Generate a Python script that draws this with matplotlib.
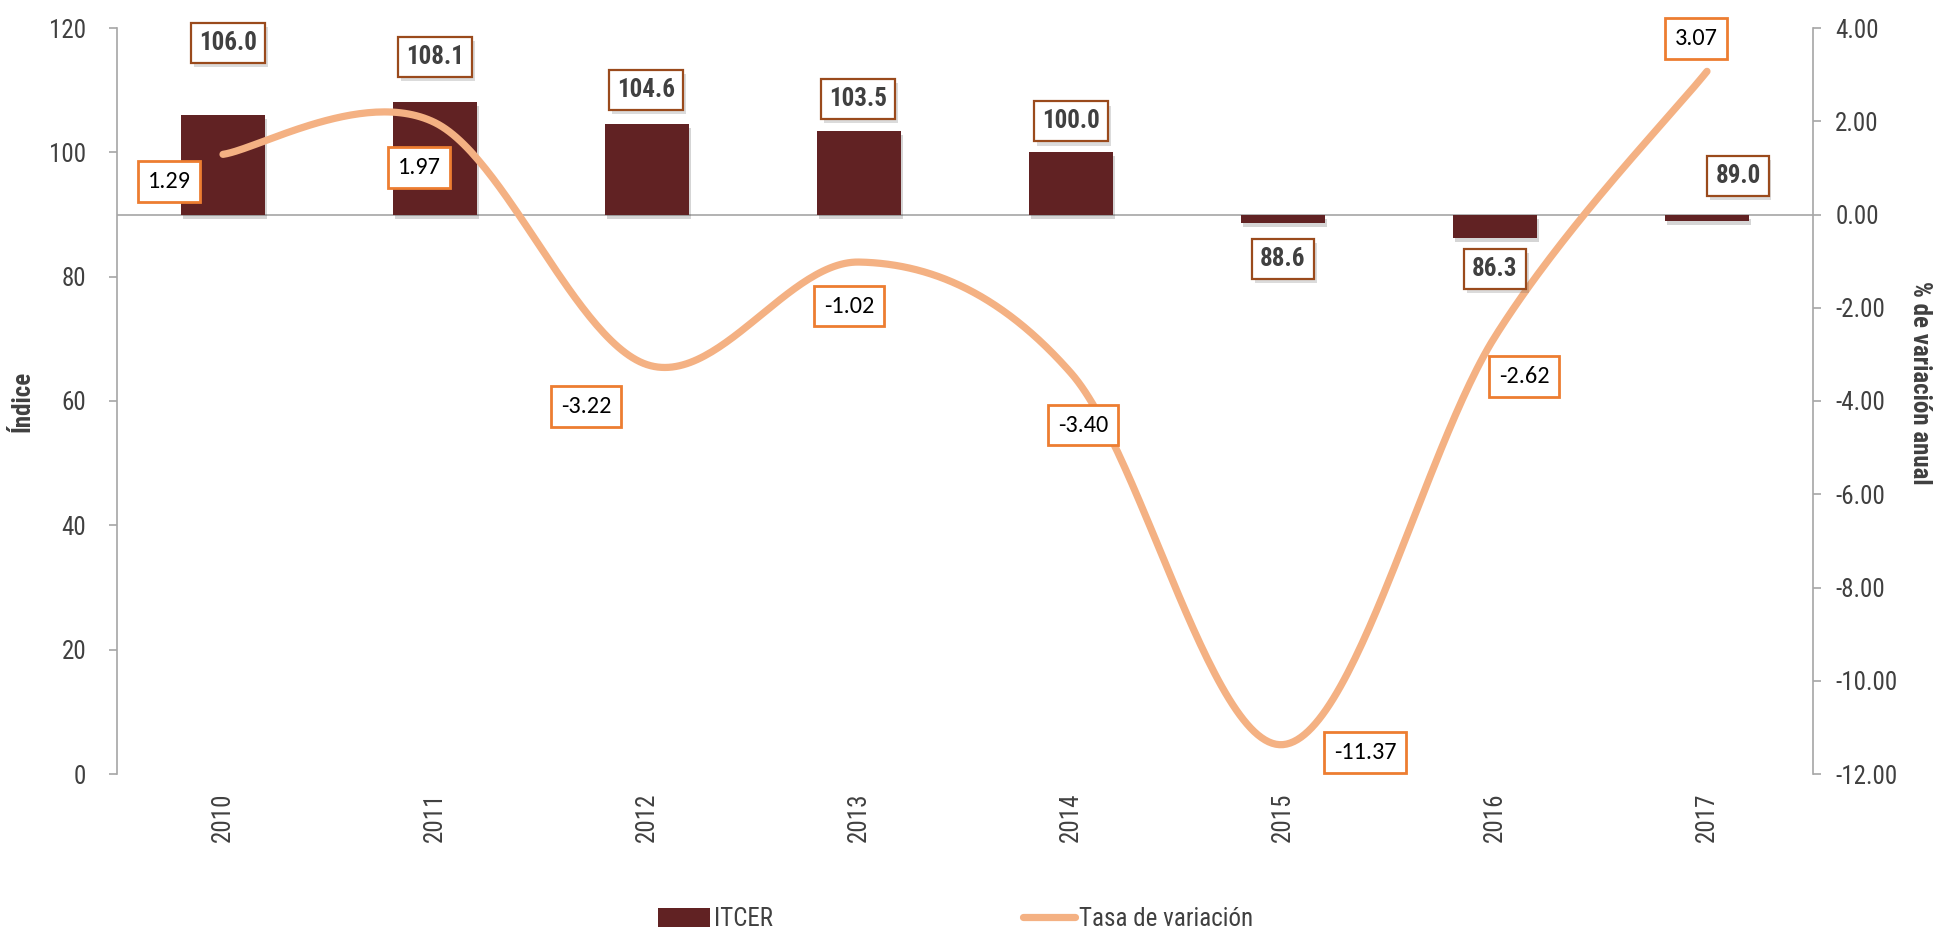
import numpy as np
import matplotlib
matplotlib.use("Agg")
import matplotlib.pyplot as plt
import matplotlib.patheffects as pe
from matplotlib import font_manager as fm
from matplotlib.patches import Patch
from matplotlib.lines import Line2D

# ---- data ----
years = ["2010", "2011", "2012", "2013", "2014", "2015", "2016", "2017"]
itcer = [106.0, 108.1, 104.6, 103.5, 100.0, 88.6, 86.3, 89.0]
tasa = [1.29, 1.97, -3.22, -1.02, -3.40, -11.37, -2.62, 3.07]
base_index = 90.0

# label offsets in pixels (dx, dy) from the bar end / line point
bar_label_offsets = [(5, 72), (0, 45), (-1, 34), (-1, 32), (0, 31), (0, -36), (0, -31), (31, 45)]
line_label_offsets = [(-54, -27), (-16, -45), (-61, -42), (-10, -44), (12, -52), (82, -8), (29, -40), (-11, 33)]


def pick_family(candidates, need_bold=False, default="DejaVu Sans"):
    """First installed family from candidates (optionally one that has a bold face)."""
    weights = {}
    for f in fm.fontManager.ttflist:
        w = f.weight
        if isinstance(w, str):
            w = fm.weight_dict.get(w, 400)
        weights.setdefault(f.name, set()).add(int(w))
    for c in candidates:
        if c in weights and (not need_bold or max(weights[c]) >= 600):
            return c
    return default


narrow_candidates = ["Liberation Sans Narrow", "Arial Narrow", "Roboto Condensed", "Archivo Narrow",
                     "PT Sans Narrow", "Fira Sans Condensed", "IBM Plex Sans Condensed",
                     "Barlow Semi Condensed", "Encode Sans Condensed", "Asap Condensed",
                     "Sofia Sans Condensed", "Liberation Sans"]
NARROW = [pick_family(narrow_candidates, need_bold=True), "DejaVu Sans"]
LABEL_FONT = [pick_family(["Carlito", "Calibri", "Lato", "Open Sans"]), "DejaVu Sans"]

TXT = "#404040"
SPINE = "#A6A6A6"
BAR_C = "#612223"
LINE_C = "#F4B183"
BAR_EDGE = "#9A4A1C"
LINE_EDGE = "#ED7D31"

fig = plt.figure(figsize=(19.34, 9.31), dpi=100)
ax1 = fig.add_axes([117 / 1934, 1 - 774 / 931, (1813 - 117) / 1934, (774 - 28) / 931])
ax2 = ax1.twinx()

x = np.arange(len(years))

# bars grow from the base index
heights = np.array(itcer) - base_index
ax1.bar(x, heights, bottom=base_index, width=0.4, color=BAR_C, zorder=3,
        path_effects=[pe.SimplePatchShadow(offset=(1.5, -3), alpha=0.22, shadow_rgbFace="#444444"), pe.Normal()])
ax1.axhline(base_index, color=SPINE, lw=1.2, zorder=2)

ax1.set_xlim(-0.5, len(years) - 0.5)
ax1.set_ylim(0, 120)
ax1.set_yticks(np.arange(0, 121, 20))
ax2.set_ylim(-12, 4)
ax2.set_yticks(np.arange(-12, 4.1, 2))
ax2.set_yticklabels([f"{v:.2f}" for v in np.arange(-12, 4.1, 2)])

# smooth curve through the yearly rates (Catmull-Rom style Bezier)
px = x.astype(float)
py = np.array(tasa, dtype=float)
P = np.column_stack([px, py])
Pe = np.vstack([P[0], P, P[-1]])
curve = []
t = np.linspace(0, 1, 60)[:, None]
for i in range(len(P) - 1):
    p0, p1, p2, p3 = Pe[i], Pe[i + 1], Pe[i + 2], Pe[i + 3]
    c1 = p1 + (p2 - p0) / 6.0
    c2 = p2 - (p3 - p1) / 6.0
    seg = ((1 - t) ** 3) * p1 + 3 * ((1 - t) ** 2) * t * c1 + 3 * (1 - t) * t ** 2 * c2 + t ** 3 * p2
    curve.append(seg if i == 0 else seg[1:])
curve = np.vstack(curve)
ax2.plot(curve[:, 0], curve[:, 1], color=LINE_C, lw=5.2, solid_capstyle="round", zorder=4)

# spines and ticks
for ax in (ax1, ax2):
    for s in ("top", "bottom"):
        ax.spines[s].set_visible(False)
ax1.spines["right"].set_visible(False)
ax2.spines["left"].set_visible(False)
ax1.spines["left"].set_color(SPINE)
ax2.spines["right"].set_color(SPINE)
ax1.spines["left"].set_linewidth(1.2)
ax2.spines["right"].set_linewidth(1.2)

ax1.tick_params(axis="y", colors=SPINE, length=6, width=1.2, pad=16, labelcolor=TXT)
ax2.tick_params(axis="y", colors=SPINE, length=6, width=1.2, pad=10, labelcolor=TXT)
ax1.set_xticks(x)
ax1.set_xticklabels(years, rotation=90)
ax1.tick_params(axis="x", length=0, pad=13, labelcolor=TXT)
for lab in ax1.get_xticklabels() + ax1.get_yticklabels() + ax2.get_yticklabels():
    lab.set_fontfamily(NARROW)
    lab.set_fontsize(18)

# axis titles
fig.text(22 / 1934, 1 - 401 / 931, "Índice", rotation=90, ha="center", va="center",
         fontsize=18, fontweight="bold", color=TXT, family=NARROW)
fig.text(1920 / 1934, 1 - 383 / 931, "% de variación anual", rotation=-90, ha="center", va="center",
         fontsize=18, fontweight="bold", color=TXT, family=NARROW)

# value labels for the bars
for xi, v, (dx, dy) in zip(x, itcer, bar_label_offsets):
    ax2.annotate(f"{v:.1f}", xy=(xi, v), xycoords=ax1.transData,
                 xytext=(dx, dy), textcoords="offset pixels",
                 ha="center", va="center", fontsize=18, fontweight="bold",
                 color=TXT, family=NARROW, zorder=6,
                 bbox=dict(boxstyle="square,pad=0.32", fc="white", ec=BAR_EDGE, lw=1.6,
                           path_effects=[pe.SimplePatchShadow(offset=(2, -3), alpha=0.2), pe.Normal()]))

# value labels for the rate line
for xi, v, (dx, dy) in zip(x, tasa, line_label_offsets):
    ax2.annotate(f"{v:.2f}", xy=(xi, v), xycoords=ax2.transData,
                 xytext=(dx, dy), textcoords="offset pixels",
                 ha="center", va="center", fontsize=17.5, color="black",
                 family=LABEL_FONT, zorder=7,
                 bbox=dict(boxstyle="square,pad=0.4", fc="white", ec=LINE_EDGE, lw=2.0))

# legend
handles = [Patch(facecolor=BAR_C, edgecolor="none"),
           Line2D([0], [0], color=LINE_C, lw=5.2, solid_capstyle="round")]
leg = fig.legend(handles, ["ITCER", "Tasa de variación"], loc="center",
                 bbox_to_anchor=(0.494, 0.013), ncol=2, frameon=False,
                 prop={"family": NARROW, "size": 18}, handlelength=2.1, handleheight=0.8,
                 handletextpad=0.15, columnspacing=10.0)
for t_ in leg.get_texts():
    t_.set_color(TXT)

fig.savefig("out.png", dpi=100)
